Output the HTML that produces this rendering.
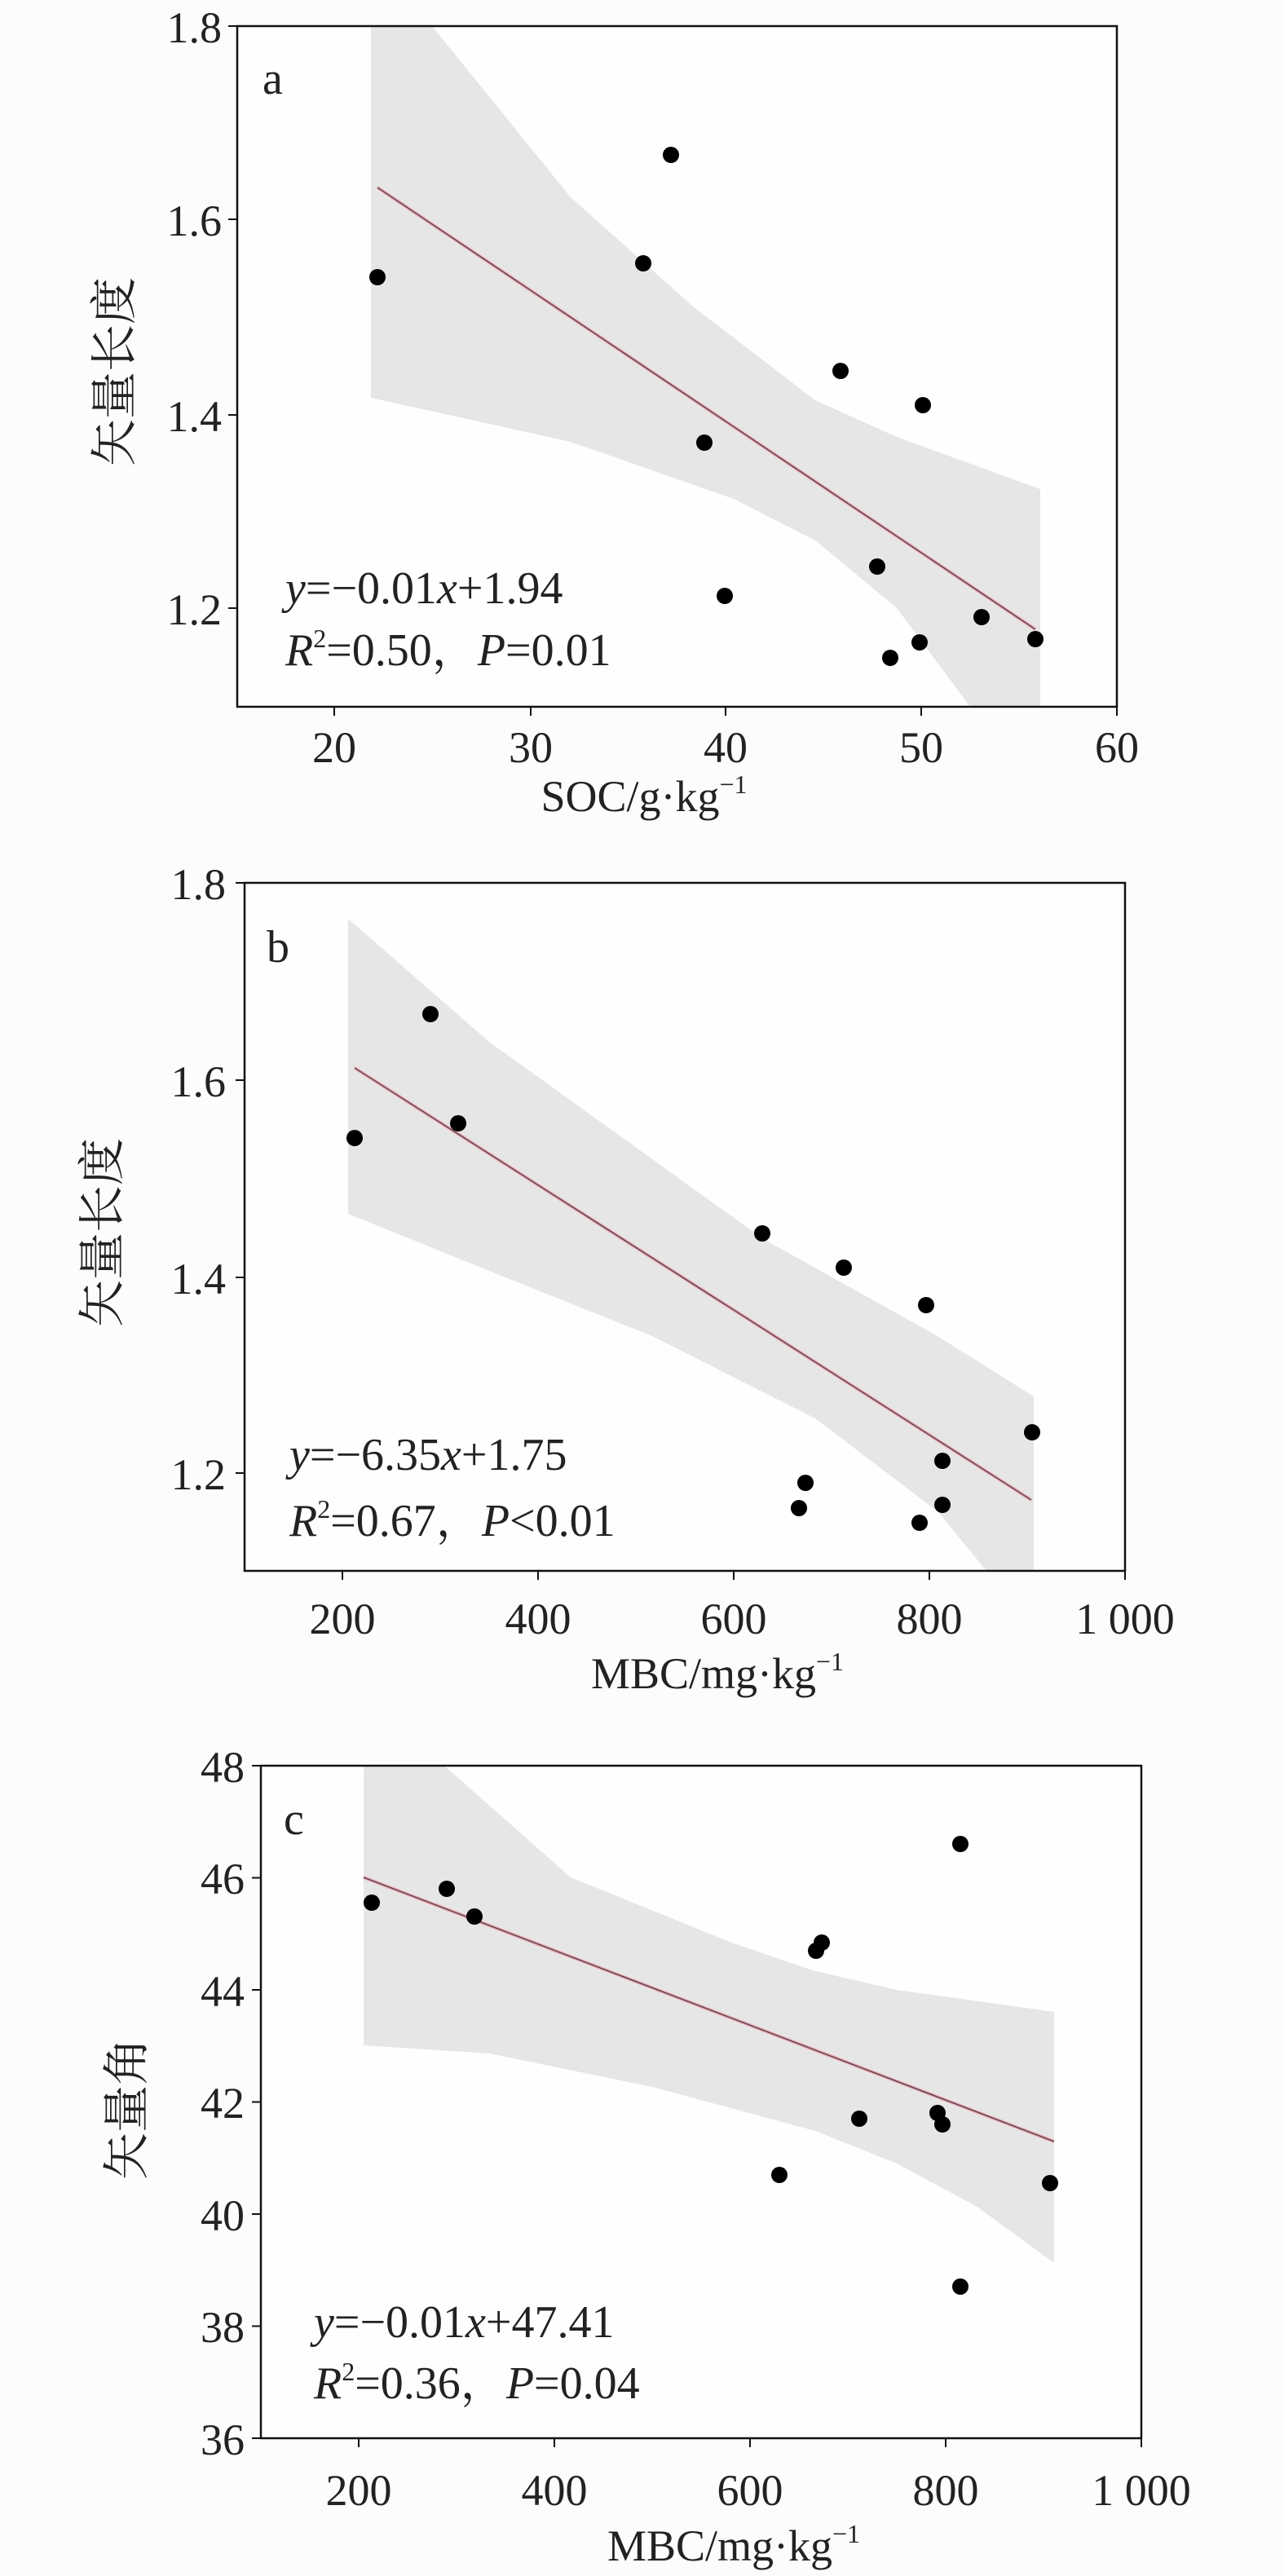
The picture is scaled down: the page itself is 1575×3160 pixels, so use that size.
<!DOCTYPE html>
<html><head><meta charset="utf-8"><style>
html,body{margin:0;padding:0;background:#fcfcfc;}
svg{display:block}
text{font-family:"Liberation Serif","Noto Serif CJK SC",serif;fill:#222;}
.t{font-size:54px}
.cn{font-family:"Liberation Serif","Noto Serif CJK SC","Noto Sans CJK SC",serif;font-size:58px}
.eq{font-size:56px}
</style></head><body>
<svg width="1575" height="3160" viewBox="0 0 1575 3160" xmlns="http://www.w3.org/2000/svg">
<rect width="1575" height="3160" fill="#fcfcfc"/>

<!-- Panel a -->
<rect x="291" y="32" width="1079" height="835" fill="#fefefe"/>
<polygon fill="#e6e6e6" points="455,32 530,32 700,242 850,376 1000,491 1100,536 1276,600 1276,867 1190,867 1100,746 1000,663 900,612 700,542 455,488"/>
<line x1="463" y1="230" x2="1270" y2="772" stroke="#f0a0b0" stroke-width="4"/>
<line x1="463" y1="230" x2="1270" y2="772" stroke="#444" stroke-width="1.3"/>
<g fill="#000">
<circle cx="463" cy="340" r="10"/><circle cx="823" cy="190" r="10"/><circle cx="789" cy="323" r="10"/>
<circle cx="1031" cy="455" r="10"/><circle cx="1132" cy="497" r="10"/><circle cx="864" cy="543" r="10"/>
<circle cx="1076" cy="695" r="10"/><circle cx="889" cy="731" r="10"/><circle cx="1204" cy="757" r="10"/>
<circle cx="1128" cy="788" r="10"/><circle cx="1092" cy="807" r="10"/><circle cx="1270" cy="784" r="10"/>
</g>
<rect x="291" y="32" width="1079" height="835" fill="none" stroke="#111" stroke-width="2.5"/>
<g stroke="#111" stroke-width="2">
<line x1="280" y1="32" x2="291" y2="32"/><line x1="280" y1="269" x2="291" y2="269"/><line x1="280" y1="509" x2="291" y2="509"/><line x1="280" y1="746" x2="291" y2="746"/>
<line x1="410" y1="867" x2="410" y2="878"/><line x1="651" y1="867" x2="651" y2="878"/><line x1="890" y1="867" x2="890" y2="878"/><line x1="1130" y1="867" x2="1130" y2="878"/><line x1="1370" y1="867" x2="1370" y2="878"/>
</g>
<g class="t" text-anchor="end">
<text x="272" y="52">1.8</text><text x="272" y="289">1.6</text><text x="272" y="529">1.4</text><text x="272" y="766">1.2</text>
</g>
<g class="t" text-anchor="middle">
<text x="410" y="935">20</text><text x="651" y="935">30</text><text x="890" y="935">40</text><text x="1130" y="935">50</text><text x="1370" y="935">60</text>
<text x="790" y="995">SOC/g·kg<tspan font-size="32" dy="-22">−1</tspan></text>
</g>
<text class="cn" text-anchor="middle" transform="translate(160,456) rotate(-90)">矢量长度</text>
<text class="eq" x="322" y="115">a</text>
<text class="eq" x="350" y="740"><tspan font-style="italic">y</tspan>=−0.01<tspan font-style="italic">x</tspan>+1.94</text>
<text class="eq" x="350" y="816"><tspan font-style="italic">R</tspan><tspan font-size="32" dy="-22">2</tspan><tspan dy="22">=0.50，</tspan><tspan font-style="italic">P</tspan>=0.01</text>

<!-- Panel b -->
<rect x="300" y="1083" width="1080" height="844" fill="#fefefe"/>
<polygon fill="#e6e6e6" points="427,1127 600,1278 935,1519 1150,1639 1268,1713 1268,1927 1210,1927 1150,1854 1000,1740 800,1639 600,1559 427,1489"/>
<line x1="435" y1="1310" x2="1265" y2="1840" stroke="#f0a0b0" stroke-width="4"/>
<line x1="435" y1="1310" x2="1265" y2="1840" stroke="#444" stroke-width="1.3"/>
<g fill="#000">
<circle cx="435" cy="1396" r="10"/><circle cx="528" cy="1244" r="10"/><circle cx="562" cy="1378" r="10"/>
<circle cx="935" cy="1513" r="10"/><circle cx="1035" cy="1555" r="10"/><circle cx="1136" cy="1601" r="10"/>
<circle cx="1266" cy="1757" r="10"/><circle cx="1156" cy="1792" r="10"/><circle cx="988" cy="1819" r="10"/>
<circle cx="980" cy="1850" r="10"/><circle cx="1156" cy="1846" r="10"/><circle cx="1128" cy="1868" r="10"/>
</g>
<rect x="300" y="1083" width="1080" height="844" fill="none" stroke="#111" stroke-width="2.5"/>
<g stroke="#111" stroke-width="2">
<line x1="289" y1="1083" x2="300" y2="1083"/><line x1="289" y1="1325" x2="300" y2="1325"/><line x1="289" y1="1567" x2="300" y2="1567"/><line x1="289" y1="1807" x2="300" y2="1807"/>
<line x1="420" y1="1927" x2="420" y2="1938"/><line x1="660" y1="1927" x2="660" y2="1938"/><line x1="900" y1="1927" x2="900" y2="1938"/><line x1="1140" y1="1927" x2="1140" y2="1938"/><line x1="1380" y1="1927" x2="1380" y2="1938"/>
</g>
<g class="t" text-anchor="end">
<text x="277" y="1103">1.8</text><text x="277" y="1345">1.6</text><text x="277" y="1587">1.4</text><text x="277" y="1827">1.2</text>
</g>
<g class="t" text-anchor="middle">
<text x="420" y="2004">200</text><text x="660" y="2004">400</text><text x="900" y="2004">600</text><text x="1140" y="2004">800</text><text x="1380" y="2004">1 000</text>
<text x="880" y="2071">MBC/mg·kg<tspan font-size="32" dy="-22">−1</tspan></text>
</g>
<text class="cn" text-anchor="middle" transform="translate(145,1512) rotate(-90)">矢量长度</text>
<text class="eq" x="327" y="1180">b</text>
<text class="eq" x="355" y="1803"><tspan font-style="italic">y</tspan>=−6.35<tspan font-style="italic">x</tspan>+1.75</text>
<text class="eq" x="355" y="1884"><tspan font-style="italic">R</tspan><tspan font-size="32" dy="-22">2</tspan><tspan dy="22">=0.67，</tspan><tspan font-style="italic">P</tspan>&lt;0.01</text>

<!-- Panel c -->
<rect x="320" y="2166" width="1080" height="825" fill="#fefefe"/>
<polygon fill="#e6e6e6" points="446,2166 545,2166 700,2303 900,2384 1000,2418 1100,2441 1293,2468 1293,2776 1200,2708 1100,2654 1000,2614 800,2560 600,2519 446,2509"/>
<line x1="446" y1="2303" x2="1293" y2="2627" stroke="#f0a0b0" stroke-width="4"/>
<line x1="446" y1="2303" x2="1293" y2="2627" stroke="#444" stroke-width="1.3"/>
<g fill="#000">
<circle cx="456" cy="2334" r="10"/><circle cx="548" cy="2317" r="10"/><circle cx="582" cy="2351" r="10"/>
<circle cx="1001" cy="2393" r="10"/><circle cx="1008" cy="2383" r="10"/><circle cx="1054" cy="2599" r="10"/>
<circle cx="956" cy="2668" r="10"/><circle cx="1150" cy="2592" r="10"/><circle cx="1156" cy="2606" r="10"/>
<circle cx="1178" cy="2262" r="10"/><circle cx="1178" cy="2805" r="10"/><circle cx="1288" cy="2678" r="10"/>
</g>
<rect x="320" y="2166" width="1080" height="825" fill="none" stroke="#111" stroke-width="2.5"/>
<g stroke="#111" stroke-width="2">
<line x1="309" y1="2166" x2="320" y2="2166"/><line x1="309" y1="2303.5" x2="320" y2="2303.5"/><line x1="309" y1="2441" x2="320" y2="2441"/><line x1="309" y1="2578.5" x2="320" y2="2578.5"/><line x1="309" y1="2716" x2="320" y2="2716"/><line x1="309" y1="2853.5" x2="320" y2="2853.5"/><line x1="309" y1="2991" x2="320" y2="2991"/>
<line x1="440" y1="2991" x2="440" y2="3002"/><line x1="680" y1="2991" x2="680" y2="3002"/><line x1="920" y1="2991" x2="920" y2="3002"/><line x1="1160" y1="2991" x2="1160" y2="3002"/><line x1="1400" y1="2991" x2="1400" y2="3002"/>
</g>
<g class="t" text-anchor="end">
<text x="300" y="2186">48</text><text x="300" y="2323">46</text><text x="300" y="2461">44</text><text x="300" y="2598">42</text><text x="300" y="2736">40</text><text x="300" y="2873">38</text><text x="300" y="3011">36</text>
</g>
<g class="t" text-anchor="middle">
<text x="440" y="3073">200</text><text x="680" y="3073">400</text><text x="920" y="3073">600</text><text x="1160" y="3073">800</text><text x="1400" y="3073">1 000</text>
<text x="900" y="3141">MBC/mg·kg<tspan font-size="32" dy="-22">−1</tspan></text>
</g>
<text class="cn" text-anchor="middle" transform="translate(175,2587) rotate(-90)">矢量角</text>
<text class="eq" x="348" y="2250">c</text>
<text class="eq" x="385" y="2867"><tspan font-style="italic">y</tspan>=−0.01<tspan font-style="italic">x</tspan>+47.41</text>
<text class="eq" x="385" y="2942"><tspan font-style="italic">R</tspan><tspan font-size="32" dy="-22">2</tspan><tspan dy="22">=0.36，</tspan><tspan font-style="italic">P</tspan>=0.04</text>
</svg>
</body></html>
